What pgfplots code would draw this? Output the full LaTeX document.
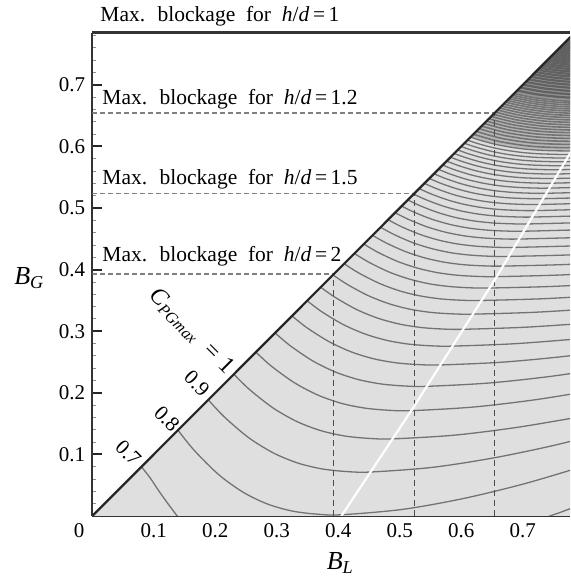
\documentclass[border=0pt]{standalone}
\usepackage{fontspec}
\setmainfont{Liberation Serif}
\usepackage{pgfplots}
\pgfplotsset{compat=1.18}
\definecolor{bgfill}{gray}{0.875}
\definecolor{midfill}{gray}{0.72}
\definecolor{darkfill}{gray}{0.58}
\definecolor{cline}{gray}{0.45}
\definecolor{hdash}{gray}{0.5}
\definecolor{vdash}{gray}{0.3}
\pgfplotsset{
  cl/.style={cline, line width=0.65pt, smooth},
  clm/.style={cline, line width=0.8pt, smooth},
  cld/.style={cline!85!black, line width=1.1pt, smooth},
}
\newcommand{\ann}{\fontsize{10.75}{12}\selectfont\spaceskip=0.5em plus 0.1em}
\begin{document}
\begin{tikzpicture}[x=1pt,y=1pt]
\useasboundingbox (-46.15,-30.5) rectangle (238.85,258);
\begin{axis}[
  at={(0,0)}, anchor=south west,
  scale only axis, width=238.85pt, height=241.65pt,
  xmin=0, xmax=0.7768, ymin=0, ymax=0.7846,
  axis x line*=box, axis y line*=left,
  x axis line style={-}, y axis line style={-},
  axis line style={line width=1.2pt, black!80},
  xtick pos=left, ytick pos=left, tick align=inside,
  xtick={0,0.1,0.2,0.3,0.4,0.5,0.6,0.7},
  xticklabels={,0.1,0.2,0.3,0.4,0.5,0.6,0.7},
  ytick={0,0.1,0.2,0.3,0.4,0.5,0.6,0.7},
  yticklabels={,0.1,0.2,0.3,0.4,0.5,0.6,0.7},
  minor xtick={0.02,0.04,0.06,0.08,0.12,0.14,0.16,0.18,0.22,0.24,0.26,0.28,0.32,0.34,0.36,0.38,0.42,0.44,0.46,0.48,0.52,0.54,0.56,0.58,0.62,0.64,0.66,0.68,0.72,0.74,0.76},
  minor ytick={0.02,0.04,0.06,0.08,0.12,0.14,0.16,0.18,0.22,0.24,0.26,0.28,0.32,0.34,0.36,0.38,0.42,0.44,0.46,0.48,0.52,0.54,0.56,0.58,0.62,0.64,0.66,0.68,0.72,0.74,0.76,0.78},
  major tick length=5pt, minor tick length=2pt,
  every major tick/.append style={line width=1pt, black!85},
  every minor tick/.append style={line width=0.4pt, black!45},
  every tick label/.append style={font=\fontsize{10.5}{12}\selectfont},
]
% background of the admissible region
\addplot[fill=bgfill, draw=none] coordinates {(0,0) (0.9,0) (0.9,0.9) (0,0)};
% denser shading where contour lines crowd together
\addplot[fill=midfill, draw=none] coordinates {(0.6151,0.6151)(0.6315,0.6097)(0.6561,0.6032)(0.6807,0.5986)(0.7053,0.5954)(0.7299,0.5936)(0.7545,0.5928)(0.7791,0.5926)(0.85,0.5926)(0.85,0.85)(0.6151,0.6151)};
\addplot[fill=darkfill, draw=none] coordinates {(0.6857,0.6857)(0.7209,0.6787)(0.7631,0.6740)(0.8054,0.6725)(0.85,0.6725)(0.85,0.85)(0.6857,0.6857)};

% contour lines C_PGmax
\addplot[cl] coordinates {(0.0799,0.0799)(0.094,0.062)(0.108,0.041)(0.123,0.020)(0.138,0.0)(0.145,-0.01)};
\addplot[cl] coordinates {(0.735,-0.004)(0.744,0.0)(0.760,0.0055)(0.780,0.013)};
\addplot[cl] coordinates {(0.1393,0.1393)(0.1659,0.1064)(0.2057,0.0670)(0.2456,0.0384)(0.2854,0.0192)(0.3253,0.0080)(0.3651,0.0030)(0.405,0.002)(0.505,0.0108)(0.605,0.0287)(0.705,0.053)(0.805,0.0827)};
\addplot[cl] coordinates {(0.1886,0.1886)(0.2150,0.1605)(0.2546,0.1269)(0.2942,0.1025)(0.3337,0.0861)(0.3733,0.0765)(0.4129,0.0722)(0.4525,0.0714)(0.5525,0.0789)(0.6525,0.0943)(0.7525,0.1151)(0.8525,0.1406)};
\addplot[cl] coordinates {(0.2302,0.2302)(0.2560,0.2050)(0.2947,0.1749)(0.3334,0.1530)(0.3722,0.1384)(0.4109,0.1298)(0.4496,0.1260)(0.4883,0.1252)(0.5883,0.1312)(0.6883,0.1435)(0.7883,0.1602)};
\addplot[cl] coordinates {(0.2660,0.2660)(0.2913,0.2432)(0.3292,0.2160)(0.3671,0.1962)(0.4050,0.1829)(0.4429,0.1752)(0.4808,0.1717)(0.5187,0.1710)(0.6187,0.1768)(0.7187,0.1885)(0.8187,0.2045)};
\addplot[cl] coordinates {(0.2972,0.2972)(0.3219,0.2764)(0.3589,0.2515)(0.3959,0.2335)(0.4329,0.2214)(0.4700,0.2143)(0.5070,0.2111)(0.5440,0.2105)(0.6440,0.2158)(0.7440,0.2265)(0.8440,0.2411)};
\addplot[cl] coordinates {(0.3248,0.3248)(0.3489,0.3057)(0.3852,0.2829)(0.4214,0.2663)(0.4576,0.2552)(0.4938,0.2487)(0.5300,0.2458)(0.5662,0.2452)(0.6662,0.2497)(0.7662,0.2589)(0.8662,0.2714)};
\addplot[cl] coordinates {(0.3494,0.3494)(0.3730,0.3317)(0.4085,0.3106)(0.4439,0.2953)(0.4794,0.2850)(0.5148,0.2790)(0.5502,0.2763)(0.5857,0.2758)(0.6857,0.2796)(0.7857,0.2872)};
\addplot[cl] coordinates {(0.3714,0.3714)(0.3946,0.3551)(0.4294,0.3354)(0.4641,0.3212)(0.4989,0.3117)(0.5337,0.3061)(0.5685,0.3036)(0.6032,0.3031)(0.7032,0.3064)(0.8032,0.3130)};
\addplot[cl] coordinates {(0.3914,0.3914)(0.4142,0.3762)(0.4483,0.3579)(0.4824,0.3446)(0.5165,0.3357)(0.5507,0.3305)(0.5848,0.3282)(0.6189,0.3277)(0.7189,0.3307)(0.8189,0.3368)};
\addplot[cl] coordinates {(0.4096,0.4096)(0.4319,0.3953)(0.4655,0.3782)(0.4990,0.3657)(0.5325,0.3574)(0.5660,0.3525)(0.5995,0.3503)(0.6330,0.3499)(0.7330,0.3527)(0.8330,0.3583)};
\addplot[cl] coordinates {(0.4262,0.4262)(0.4482,0.4128)(0.4811,0.3967)(0.5141,0.3850)(0.5471,0.3771)(0.5800,0.3726)(0.6130,0.3705)(0.6459,0.3701)(0.7459,0.3726)(0.8459,0.3777)};
\addplot[cl] coordinates {(0.4415,0.4415)(0.4631,0.4288)(0.4956,0.4136)(0.5280,0.4026)(0.5604,0.3952)(0.5928,0.3909)(0.6253,0.3890)(0.6577,0.3886)(0.7577,0.3911)(0.8577,0.3962)};
\addplot[cl] coordinates {(0.4557,0.4557)(0.4769,0.4437)(0.5088,0.4294)(0.5406,0.4190)(0.5724,0.4120)(0.6043,0.4079)(0.6361,0.4061)(0.6679,0.4057)(0.7679,0.4082)(0.8679,0.4133)};
\addplot[cl] coordinates {(0.4688,0.4688)(0.4897,0.4574)(0.5209,0.4438)(0.5522,0.4340)(0.5835,0.4273)(0.6148,0.4235)(0.6460,0.4217)(0.6773,0.4214)(0.7773,0.4239)(0.8773,0.4290)};
\addplot[cl] coordinates {(0.4810,0.4810)(0.5015,0.4702)(0.5323,0.4573)(0.5630,0.4479)(0.5938,0.4416)(0.6245,0.4380)(0.6553,0.4363)(0.6860,0.4360)(0.7860,0.4385)};
\addplot[cl] coordinates {(0.4924,0.4924)(0.5126,0.4822)(0.5428,0.4699)(0.5731,0.4610)(0.6033,0.4550)(0.6336,0.4515)(0.6638,0.4499)(0.6941,0.4496)(0.7941,0.4521)};
\addplot[cl] coordinates {(0.5031,0.5031)(0.5230,0.4933)(0.5527,0.4816)(0.5825,0.4731)(0.6123,0.4674)(0.6421,0.4641)(0.6718,0.4626)(0.7016,0.4623)(0.8016,0.4648)};
\addplot[cl] coordinates {(0.5131,0.5131)(0.5327,0.5038)(0.5620,0.4926)(0.5913,0.4844)(0.6206,0.4790)(0.6500,0.4758)(0.6793,0.4744)(0.7086,0.4741)(0.8086,0.4766)};
\addplot[cl] coordinates {(0.5226,0.5226)(0.5419,0.5137)(0.5708,0.5030)(0.5997,0.4952)(0.6286,0.4900)(0.6575,0.4869)(0.6864,0.4856)(0.7153,0.4853)(0.8153,0.4878)};
\addplot[cl] coordinates {(0.5315,0.5315)(0.5505,0.5230)(0.5790,0.5127)(0.6075,0.5053)(0.6360,0.5003)(0.6645,0.4974)(0.6930,0.4961)(0.7215,0.4958)(0.8215,0.4983)};
\addplot[cl] coordinates {(0.5400,0.5400)(0.5587,0.5318)(0.5868,0.5219)(0.6150,0.5148)(0.6431,0.5100)(0.6712,0.5072)(0.6993,0.5059)(0.7274,0.5057)(0.8274,0.5082)};
\addplot[cl] coordinates {(0.5480,0.5480)(0.5665,0.5401)(0.5943,0.5307)(0.6220,0.5238)(0.6498,0.5192)(0.6775,0.5165)(0.7053,0.5153)(0.7330,0.5151)(0.8330,0.5176)};
\addplot[cl] coordinates {(0.5556,0.5556)(0.5739,0.5480)(0.6013,0.5389)(0.6287,0.5323)(0.6561,0.5279)(0.6835,0.5253)(0.7109,0.5241)(0.7383,0.5239)(0.8383,0.5264)};
\addplot[cl] coordinates {(0.5628,0.5628)(0.5809,0.5555)(0.6079,0.5467)(0.6350,0.5404)(0.6621,0.5361)(0.6892,0.5336)(0.7162,0.5325)(0.7433,0.5323)(0.8433,0.5348)};
\addplot[cl] coordinates {(0.5697,0.5697)(0.5875,0.5626)(0.6143,0.5542)(0.6410,0.5481)(0.6678,0.5440)(0.6945,0.5416)(0.7213,0.5405)(0.7480,0.5403)(0.8480,0.5428)};
\addplot[cl] coordinates {(0.5762,0.5762)(0.5938,0.5694)(0.6203,0.5613)(0.6467,0.5554)(0.6732,0.5515)(0.6996,0.5491)(0.7261,0.5481)(0.7525,0.5479)(0.8525,0.5504)};
\addplot[cl] coordinates {(0.5825,0.5825)(0.5999,0.5760)(0.6261,0.5681)(0.6523,0.5624)(0.6784,0.5586)(0.7046,0.5564)(0.7307,0.5554)(0.7569,0.5552)(0.8569,0.5577)};
\addplot[cl] coordinates {(0.5885,0.5885)(0.6058,0.5822)(0.6316,0.5746)(0.6575,0.5691)(0.6834,0.5654)(0.7093,0.5633)(0.7351,0.5623)(0.7610,0.5621)(0.8610,0.5646)};
\addplot[cl] coordinates {(0.5943,0.5943)(0.6114,0.5881)(0.6370,0.5808)(0.6625,0.5755)(0.6881,0.5719)(0.7137,0.5698)(0.7393,0.5689)(0.7649,0.5687)(0.8649,0.5712)};
\addplot[cl] coordinates {(0.5998,0.5998)(0.6167,0.5939)(0.6420,0.5868)(0.6674,0.5817)(0.6927,0.5782)(0.7180,0.5762)(0.7434,0.5753)(0.7687,0.5751)(0.8687,0.5776)};
\addplot[cl] coordinates {(0.6051,0.6051)(0.6218,0.5994)(0.6470,0.5925)(0.6720,0.5875)(0.6971,0.5842)(0.7222,0.5822)(0.7473,0.5814)(0.7724,0.5812)(0.8724,0.5837)};
\addplot[cl] coordinates {(0.6102,0.6102)(0.6268,0.6046)(0.6516,0.5980)(0.6764,0.5932)(0.7013,0.5899)(0.7261,0.5880)(0.7510,0.5872)(0.7758,0.5870)(0.8758,0.5895)};
\addplot[cl] coordinates {(0.6151,0.6151)(0.6315,0.6097)(0.6561,0.6032)(0.6807,0.5986)(0.7053,0.5954)(0.7299,0.5936)(0.7545,0.5928)(0.7791,0.5926)};
\addplot[clm] coordinates {(0.6198,0.6198)(0.6605,0.6083)(0.7092,0.6007)(0.7580,0.5981)(0.82,0.5980)};
\addplot[clm] coordinates {(0.6244,0.6244)(0.6647,0.6132)(0.7130,0.6059)(0.7613,0.6034)(0.82,0.6032)};
\addplot[clm] coordinates {(0.6288,0.6288)(0.6687,0.6180)(0.7166,0.6108)(0.7645,0.6084)(0.82,0.6082)};
\addplot[clm] coordinates {(0.6330,0.6330)(0.6726,0.6225)(0.7201,0.6155)(0.7676,0.6131)(0.82,0.6130)};
\addplot[clm] coordinates {(0.6371,0.6371)(0.6764,0.6269)(0.7235,0.6201)(0.7706,0.6178)(0.82,0.6177)};
\addplot[clm] coordinates {(0.6411,0.6411)(0.6800,0.6311)(0.7267,0.6246)(0.7734,0.6223)(0.82,0.6222)};
\addplot[clm] coordinates {(0.6449,0.6449)(0.6835,0.6352)(0.7298,0.6288)(0.7761,0.6266)(0.82,0.6265)};
\addplot[clm] coordinates {(0.6486,0.6486)(0.6869,0.6392)(0.7329,0.6329)(0.7788,0.6308)};
\addplot[clm] coordinates {(0.6522,0.6522)(0.6902,0.6430)(0.7359,0.6369)(0.7815,0.6349)};
\addplot[clm] coordinates {(0.6557,0.6557)(0.6934,0.6467)(0.7387,0.6408)(0.7840,0.6388)};
\addplot[clm] coordinates {(0.6591,0.6591)(0.6965,0.6504)(0.7414,0.6446)(0.7863,0.6426)};
\addplot[clm] coordinates {(0.6624,0.6624)(0.6996,0.6539)(0.7442,0.6483)(0.7888,0.6464)};
\addplot[clm] coordinates {(0.6656,0.6656)(0.7025,0.6573)(0.7468,0.6518)(0.7911,0.6500)};
\addplot[clm] coordinates {(0.6687,0.6687)(0.7054,0.6606)(0.7493,0.6553)(0.7933,0.6534)};
\addplot[clm] coordinates {(0.6718,0.6718)(0.7082,0.6639)(0.7518,0.6587)(0.7955,0.6569)};
\addplot[clm] coordinates {(0.6747,0.6747)(0.7109,0.6670)(0.7542,0.6619)(0.7976,0.6602)};
\addplot[clm] coordinates {(0.6776,0.6776)(0.7135,0.6701)(0.7566,0.6651)(0.7997,0.6634)};
\addplot[clm] coordinates {(0.6804,0.6804)(0.7161,0.6730)(0.7589,0.6682)(0.8017,0.6665)};
\addplot[clm] coordinates {(0.6831,0.6831)(0.7186,0.6759)(0.7611,0.6712)(0.8036,0.6696)};
\addplot[clm] coordinates {(0.6857,0.6857)(0.7209,0.6787)(0.7631,0.6740)(0.8054,0.6725)};
\addplot[cld] coordinates {(0.6908,0.6908)(0.7256,0.6841)(0.7674,0.6797)(0.8091,0.6782)};
\addplot[cld] coordinates {(0.6957,0.6957)(0.7301,0.6893)(0.7713,0.6850)(0.8126,0.6836)};
\addplot[cld] coordinates {(0.7003,0.7003)(0.7343,0.6942)(0.7751,0.6901)(0.8159,0.6887)};
\addplot[cld] coordinates {(0.7048,0.7048)(0.7384,0.6989)(0.7787,0.6950)};
\addplot[cld] coordinates {(0.7090,0.7090)(0.7423,0.7034)(0.7822,0.6996)};
\addplot[cld] coordinates {(0.7131,0.7131)(0.7460,0.7077)(0.7855,0.7041)};
\addplot[cld] coordinates {(0.7170,0.7170)(0.7496,0.7118)(0.7887,0.7084)};
\addplot[cld] coordinates {(0.7208,0.7208)(0.7531,0.7158)(0.7918,0.7125)};
\addplot[cld] coordinates {(0.7244,0.7244)(0.7563,0.7196)(0.7946,0.7164)};
\addplot[cld] coordinates {(0.7278,0.7278)(0.7595,0.7232)(0.7974,0.7201)};
\addplot[cld] coordinates {(0.7312,0.7312)(0.7626,0.7268)(0.8002,0.7238)};
\addplot[cld] coordinates {(0.7344,0.7344)(0.7655,0.7301)(0.8028,0.7273)};
\addplot[cld] coordinates {(0.7375,0.7375)(0.7683,0.7334)(0.8053,0.7307)};
\addplot[cld] coordinates {(0.7405,0.7405)(0.7711,0.7365)(0.8077,0.7339)};
\addplot[cld] coordinates {(0.7434,0.7434)(0.7737,0.7396)(0.8101,0.7371)};
\addplot[cld] coordinates {(0.7462,0.7462)(0.7763,0.7425)(0.8123,0.7401)};
\addplot[cld] coordinates {(0.7489,0.7489)(0.7787,0.7454)};
\addplot[cld] coordinates {(0.7515,0.7515)(0.7811,0.7481)};
\addplot[cld] coordinates {(0.7541,0.7541)(0.7835,0.7508)};
\addplot[cld] coordinates {(0.7566,0.7566)(0.7857,0.7534)};
\addplot[cld] coordinates {(0.7590,0.7590)(0.7879,0.7560)};
\addplot[cld] coordinates {(0.7613,0.7613)(0.7900,0.7584)};
\addplot[cld] coordinates {(0.7636,0.7636)(0.7921,0.7608)};
\addplot[cld] coordinates {(0.7658,0.7658)(0.7941,0.7631)};
\addplot[cld] coordinates {(0.7679,0.7679)(0.7961,0.7653)};
\addplot[cld] coordinates {(0.7700,0.7700)(0.7980,0.7675)};
\addplot[cld] coordinates {(0.7720,0.7720)(0.7998,0.7696)};

% maximum-blockage lines
\addplot[hdash, line width=0.8pt, dash pattern=on 2.5pt off 1.5pt] coordinates {(0,0.3927)(0.3927,0.3927)};
\addplot[hdash, line width=0.8pt, dash pattern=on 2.5pt off 1.5pt] coordinates {(0,0.5236)(0.5236,0.5236)};
\addplot[hdash, line width=0.8pt, dash pattern=on 2.5pt off 1.5pt] coordinates {(0,0.6545)(0.6545,0.6545)};
\addplot[vdash, line width=0.7pt, dash pattern=on 3pt off 2pt] coordinates {(0.3927,0)(0.3927,0.3927)};
\addplot[vdash, line width=0.7pt, dash pattern=on 3pt off 2pt] coordinates {(0.5236,0)(0.5236,0.5236)};
\addplot[vdash, line width=0.7pt, dash pattern=on 3pt off 2pt] coordinates {(0.6545,0)(0.6545,0.6545)};

% optimum local blockage (white line)
\addplot[white, line width=1.1pt] coordinates {(0.405,0)(0.522,0.176)(0.658,0.389)(0.777,0.589)(0.80,0.628)};

% B_G = B_L
\addplot[black!85, line width=1.1pt] coordinates {(0,0)(0.8,0.8)};
\end{axis}

% annotations
\node[anchor=base west, font=\ann, inner sep=0pt] at (3.85,247.15) {Max. blockage for \textit{h}/\textit{d}\,=\,1};
\node[anchor=base west, font=\ann, inner sep=0pt] at (4.85,205.5) {Max. blockage for \textit{h}/\textit{d}\,=\,1.2};
\node[anchor=base west, font=\ann, inner sep=0pt] at (4.85,165.5) {Max. blockage for \textit{h}/\textit{d}\,=\,1.5};
\node[anchor=base west, font=\ann, inner sep=0pt] at (4.85,127.15) {Max. blockage for \textit{h}/\textit{d}\,=\,2};
\node[rotate=-45, font=\fontsize{12}{14}\selectfont, inner sep=0pt] at (49.5,92.3) {\textit{C}\textsubscript{\textit{PGmax}}\hspace{0.5em}=\hspace{0.3em}1};
\node[rotate=-45, font=\fontsize{10.5}{12}\selectfont, inner sep=0pt] at (52.3,66.3) {0.9};
\node[rotate=-45, font=\fontsize{10.5}{12}\selectfont, inner sep=0pt] at (37.3,48.7) {0.8};
\node[rotate=-45, font=\fontsize{10.5}{12}\selectfont, inner sep=0pt] at (18.0,31.4) {0.7};
\node[font=\fontsize{10.5}{12}\selectfont, inner sep=0pt] at (-6.65,-7.5) {0};
\node[font=\fontsize{13}{15}\selectfont, inner sep=0pt] at (-31.5,119) {\textit{B}\textsubscript{\textit{G}}};
\node[font=\fontsize{13}{15}\selectfont, inner sep=0pt] at (124,-23.5) {\textit{B}\textsubscript{\textit{L}}};
\end{tikzpicture}
\end{document}
